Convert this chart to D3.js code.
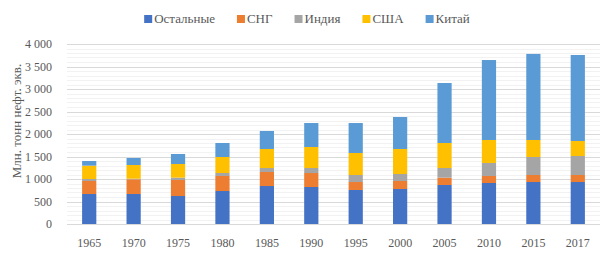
<!DOCTYPE html>
<html><head><meta charset="utf-8">
<script src="https://cdn.jsdelivr.net/npm/d3@7"></script>
<style>html,body{margin:0;padding:0;background:#fff;}svg{display:block;}</style>
</head><body>
<svg id="c" width="614" height="255"></svg>
<script>
const years = ["1965","1970","1975","1980","1985","1990","1995","2000","2005","2010","2015","2017"];
const seriesNames = ["Остальные","СНГ","Индия","США","Китай"];
const others = [667,667,622,733,844,822,756,778,867,911,933,933];
const cis    = [289,326,356,334,312,311,177,178,163,156,156,156];
const india  = [44,14,52,66,88,111,156,155,214,289,400,422];
const usa    = [296,304,303,356,423,467,489,556,556,511,378,333];
const china  = [104,156,223,311,400,533,666,711,1333,1777,1913,1912];
const yTicks = [0,500,1000,1500,2000,2500,3000,3500,4000];
const colors = ["#4472C4","#ED7D31","#A5A5A5","#FFC000","#5B9BD5"];

const seriesVals = [others, cis, india, usa, china];
const rows = years.map((y,i)=>{const r={year:y}; seriesNames.forEach((s,j)=>r[s]=seriesVals[j][i]); return r;});
const stack = d3.stack().keys(seriesNames)(rows);

const svg = d3.select("#c");
const font = "'Liberation Serif','Times New Roman',serif";
const pLeft = 67, pRight = 600, pTop = 44, pBottom = 224;
const x = d3.scaleBand().domain(years).range([pLeft,pRight]).paddingInner(0.68).paddingOuter(0.34);
const y = d3.scaleLinear().domain([0,4000]).range([pBottom,pTop]);

// minor grid
const minor = d3.range(0,4001,100).filter(v=>v%500!==0);
svg.append("g").selectAll("line").data(minor).join("line")
  .attr("x1",pLeft).attr("x2",pRight).attr("y1",d=>Math.round(y(d))+0.5).attr("y2",d=>Math.round(y(d))+0.5)
  .attr("stroke","#F2F2F2").attr("stroke-width",1);
svg.append("g").selectAll("line").data(yTicks).join("line")
  .attr("x1",pLeft).attr("x2",pRight).attr("y1",d=>Math.round(y(d))+0.5).attr("y2",d=>Math.round(y(d))+0.5)
  .attr("stroke","#D9D9D9").attr("stroke-width",1);

// bars
svg.append("g").selectAll("g").data(stack).join("g").attr("fill",(d,i)=>colors[i])
  .selectAll("rect").data(d=>d).join("rect")
  .attr("x",d=>x(d.data.year)).attr("width",x.bandwidth())
  .attr("y",d=>y(d[1])).attr("height",d=>y(d[0])-y(d[1]));

// y labels
const fmt = v => v>=1000 ? d3.format(",")(v).replace(",", " ") : String(v);
svg.append("g").selectAll("text").data(yTicks).join("text")
  .attr("x",52).attr("y",d=>y(d)).attr("dy","0.35em").attr("text-anchor","end")
  .attr("font-family",font).attr("font-size",12).attr("fill","#595959").text(fmt);

// x labels
svg.append("g").selectAll("text").data(years).join("text")
  .attr("x",d=>x(d)+x.bandwidth()/2).attr("y",247).attr("text-anchor","middle")
  .attr("font-family",font).attr("font-size",12).attr("fill","#595959").text(d=>d);

// y title
svg.append("text").attr("transform","translate(21,121) rotate(-90)").attr("text-anchor","middle")
  .attr("font-family",font).attr("font-size",13).attr("fill","#595959").text("Млн. тонн нефт. экв.");

// legend
const lg = svg.append("g");
let cx = 0;
seriesNames.forEach((s,i)=>{
  const g = lg.append("g");
  g.append("rect").attr("x",0).attr("y",15).attr("width",8).attr("height",8).attr("fill",colors[i]);
  const t = g.append("text").attr("x",10).attr("y",23).attr("font-family",font).attr("font-size",13).attr("fill","#595959").text(s);
  const w = 10 + t.node().getComputedTextLength();
  g.attr("transform",`translate(${cx},0)`);
  cx += w + 22;
});
const total = cx - 22;
lg.attr("transform",`translate(${(614-total)/2},0)`);
</script>
</body></html>
